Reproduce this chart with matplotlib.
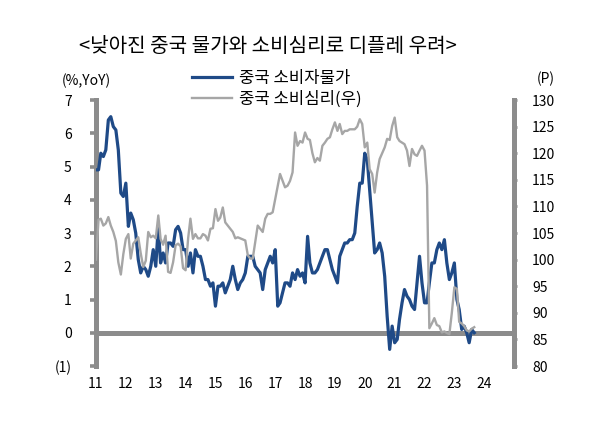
import pandas as pd
import matplotlib.pyplot as plt
from matplotlib.lines import Line2D

plt.rcParams['font.family'] = ['Noto Sans CJK KR', 'DejaVu Sans']

# 중국 소비자물가 (% YoY), 월간 2011.01 ~ 2023.09
cpi = [
    4.9, 4.9, 5.4, 5.3, 5.5, 6.4, 6.5, 6.2, 6.1, 5.5, 4.2, 4.1,
    4.5, 3.2, 3.6, 3.4, 3.0, 2.2, 1.8, 2.0, 1.9, 1.7, 2.0, 2.5,
    2.0, 3.2, 2.1, 2.4, 2.1, 2.7, 2.7, 2.6, 3.1, 3.2, 3.0, 2.5,
    2.5, 2.0, 2.4, 1.8, 2.5, 2.3, 2.3, 2.0, 1.6, 1.6, 1.4, 1.5,
    0.8, 1.4, 1.4, 1.5, 1.2, 1.4, 1.6, 2.0, 1.6, 1.3, 1.5, 1.6,
    1.8, 2.3, 2.3, 2.3, 2.0, 1.9, 1.8, 1.3, 1.9, 2.1, 2.3, 2.1,
    2.5, 0.8, 0.9, 1.2, 1.5, 1.5, 1.4, 1.8, 1.6, 1.9, 1.7, 1.8,
    1.5, 2.9, 2.1, 1.8, 1.8, 1.9, 2.1, 2.3, 2.5, 2.5, 2.2, 1.9,
    1.7, 1.5, 2.3, 2.5, 2.7, 2.7, 2.8, 2.8, 3.0, 3.8, 4.5, 4.5,
    5.4, 5.2, 4.3, 3.3, 2.4, 2.5, 2.7, 2.4, 1.7, 0.5, -0.5, 0.2,
    -0.3, -0.2, 0.4, 0.9, 1.3, 1.1, 1.0, 0.8, 0.7, 1.5, 2.3, 1.5,
    0.9, 0.9, 1.5, 2.1, 2.1, 2.5, 2.7, 2.5, 2.8, 2.1, 1.6, 1.8,
    2.1, 1.0, 0.7, 0.1, 0.2, 0.0, -0.3, 0.1, 0.0,
]

# 중국 소비심리 (P, 우축), 월간 2011.01 ~ 2023.09
sentiment = [
    100.0, 107.5, 107.7, 106.4, 106.8, 108.0, 106.4, 105.2, 103.5, 99.5, 97.2, 101.0,
    103.9, 104.8, 100.2, 103.0, 103.6, 104.2, 101.2, 98.6, 99.8, 105.2, 104.2, 104.5,
    104.0, 108.3, 103.9, 102.8, 104.5, 97.7, 97.5, 99.5, 102.7, 103.0, 102.5, 98.4,
    98.0, 104.0, 107.7, 103.9, 104.8, 104.0, 104.0, 104.8, 104.5, 103.6, 105.8, 105.9,
    109.5, 107.3, 107.9, 109.8, 107.0, 106.4, 105.8, 105.2, 104.0, 104.2, 104.0, 103.8,
    103.6, 100.8, 100.2, 100.2, 103.3, 106.4, 105.8, 105.2, 107.7, 108.6, 108.6, 108.9,
    111.4, 114.0, 116.1, 114.8, 113.6, 113.9, 114.8, 116.4, 123.9, 121.4, 122.3, 122.0,
    123.9, 122.7, 122.5, 120.0, 118.3, 119.1, 118.6, 121.4, 122.0, 122.7, 123.0, 124.5,
    125.8, 124.2, 125.5, 123.6, 124.2, 124.2, 124.5, 124.5, 124.5, 125.0, 126.4, 125.5,
    121.1, 122.0, 117.0, 116.1, 112.6, 116.4, 118.9, 120.0, 121.1, 122.7, 122.5, 125.1,
    126.7, 123.0, 122.3, 122.0, 121.7, 120.5, 117.6, 120.8, 119.8, 119.5, 120.5, 121.4,
    120.5, 113.9, 87.1, 88.0, 89.0, 87.7, 87.5, 86.3, 86.5, 86.2, 86.0, 90.0,
    94.8, 94.5, 88.3, 88.0, 87.5, 86.7, 86.5, 87.0, 87.3,
]

dates = pd.date_range("2011-01-01", periods=len(cpi), freq="MS")

years = list(range(2011, 2025))
year_ticks = [pd.Timestamp(f"{y}-01-01") for y in years]
year_labels = [str(y)[2:] for y in years]
left_ticks = list(range(-1, 8))
left_labels = ["(1)"] + [str(v) for v in range(0, 8)]
right_ticks = list(range(80, 131, 5))

blue = "#1F4A87"
light = "#A6A6A6"
axis_gray = "#8C8C8C"

fig = plt.figure(figsize=(6.06, 4.47), dpi=100)
ax = fig.add_axes([0.1584, 0.1812, 0.690, 0.595])
ax2 = ax.twinx()

ax.plot(dates, cpi, color=blue, lw=2.3, zorder=3)
ax.axhline(0, color=axis_gray, lw=3.6, zorder=2)
ax2.plot(dates, sentiment, color=light, lw=1.7, zorder=3)

ax.set_xlim(pd.Timestamp("2011-01-01"), pd.Timestamp("2025-01-01"))
ax.set_ylim(-1, 7)
ax2.set_ylim(80, 130)

ax.set_xticks(year_ticks)
ax.set_xticklabels(year_labels)
ax.set_yticks(left_ticks)
ax.set_yticklabels(left_labels)
ax2.set_yticks(right_ticks)

for a in (ax, ax2):
    a.spines["top"].set_visible(False)
    a.spines["bottom"].set_visible(False)
ax.spines["right"].set_visible(False)
ax2.spines["left"].set_visible(False)
ax.spines["left"].set_color(axis_gray)
ax.spines["left"].set_linewidth(3.6)
ax2.spines["right"].set_color(axis_gray)
ax2.spines["right"].set_linewidth(3.6)

ax.tick_params(axis="x", length=0, pad=8, labelsize=10)
ax.tick_params(axis="y", direction="out", length=4.5, width=2.6,
               color=axis_gray, pad=13, labelsize=10)
ax2.tick_params(axis="y", direction="out", length=2, width=2,
                color=axis_gray, pad=11, labelsize=10)

fig.text(268 / 606, 1 - 46 / 447, "<낮아진 중국 물가와 소비심리로 디플레 우려>",
         ha="center", va="center", fontsize=14.5)
fig.text(86 / 606, 1 - 81 / 447, "(%,YoY)", ha="center", va="center", fontsize=10)
fig.text(546 / 606, 1 - 79 / 447, "(P)", ha="center", va="center", fontsize=10)

handles = [Line2D([], [], color=blue, lw=2.3), Line2D([], [], color=light, lw=1.7)]
fig.legend(handles, ["중국 소비자물가", "중국 소비심리(우)"],
           loc="upper left", bbox_to_anchor=(192 / 606, 1 - 70 / 447),
           frameon=False, fontsize=12, handlelength=2.4, handletextpad=0.4,
           labelspacing=0.22, borderpad=0, borderaxespad=0)

fig.savefig("out.png", dpi=100)
